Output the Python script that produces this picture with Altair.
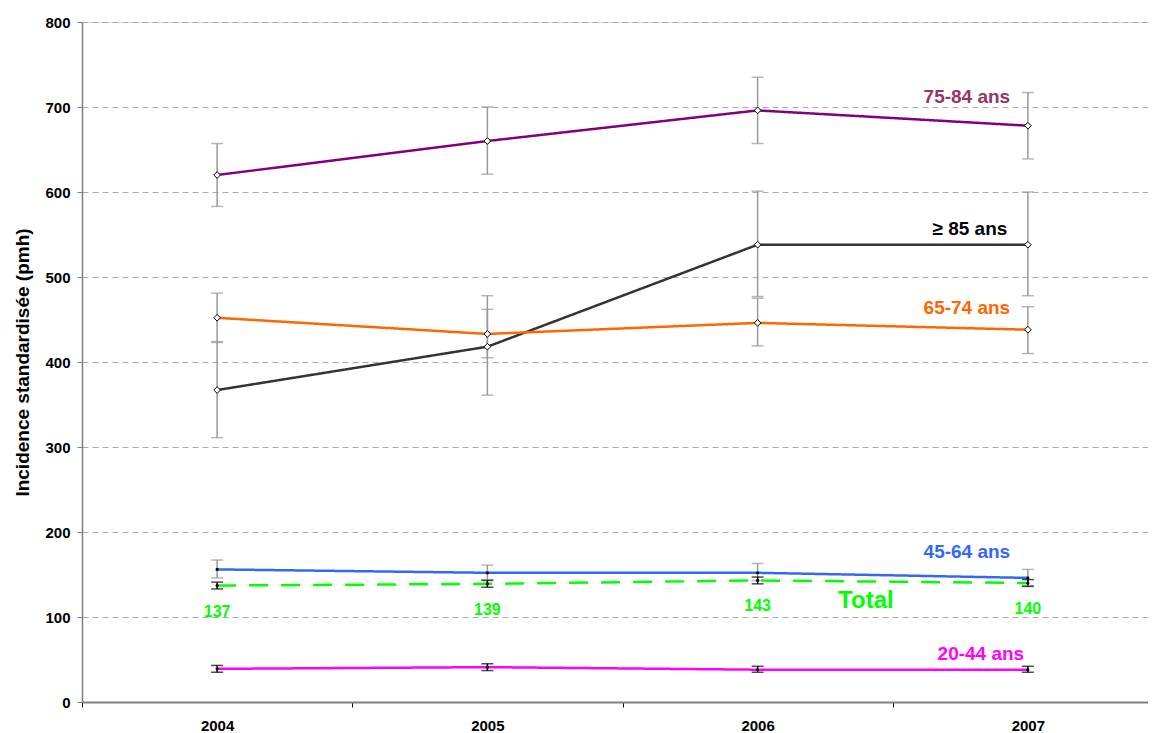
import altair as alt
import pandas as pd

years = ["2004", "2005", "2006", "2007"]
series = ["75-84 ans", "≥ 85 ans", "65-74 ans", "45-64 ans", "Total", "20-44 ans"]

v_7584 = [620, 660, 696, 678]
lo_7584 = [583, 621, 657, 639]
hi_7584 = [657, 700, 735, 717]

v_85 = [367, 418, 538, 538]
lo_85 = [311, 361, 477, 478]
hi_85 = [424, 478, 601, 600]

v_6574 = [452, 433, 446, 438]
lo_6574 = [423, 405, 419, 410]
hi_6574 = [481, 462, 475, 465]

v_4564 = [156, 152, 152, 146]
lo_4564 = [146, 144, 143, 137]
hi_4564 = [167, 161, 163, 156]

v_total = [137, 139, 143, 140]
lo_total = [133, 135, 139, 136]
hi_total = [141, 143, 147, 144]

v_2044 = [39, 41, 38, 38]
lo_2044 = [35, 37, 35, 35]
hi_2044 = [43, 45, 42, 42]

line_colors = ["#800080", "#333333", "#FF6600", "#3366FF", "#00FF00", "#FF00FF"]
label_colors = ["#993366", "#000000", "#FF6600", "#3366FF", "#00FF00", "#FF00FF"]
err_colors = ["#999999", "#999999", "#999999", "#999999", "#000000", "#000000"]
marker_kind = ["diamond", "diamond", "diamond", "dot", "dot", "dot"]

vals = [v_7584, v_85, v_6574, v_4564, v_total, v_2044]
los = [lo_7584, lo_85, lo_6574, lo_4564, lo_total, lo_2044]
his = [hi_7584, hi_85, hi_6574, hi_4564, hi_total, hi_2044]

rows = []
for i, s in enumerate(series):
    for j, y in enumerate(years):
        rows.append(dict(series=s, year=y, value=vals[i][j], lo=los[i][j], hi=his[i][j],
                         ecol=err_colors[i], kind=marker_kind[i]))
df = pd.DataFrame(rows)

FONT = "Liberation Sans"
W, H = 1066, 680

xenc = alt.X("year:O", bandPosition=0.5,
             scale=alt.Scale(type="band", domain=years, paddingInner=0, paddingOuter=0,
                             range=[0, 1081]),
             axis=alt.Axis(title=None, labelAngle=0, tickBand="extent", labelFont=FONT,
                           labelFontWeight="bold", labelFontSize=15, labelColor="#000000",
                           domainColor="#808080", domainWidth=2, tickColor="#000000",
                           tickSize=5, labelPadding=11, grid=False))
yscale = alt.Scale(domain=[0, 800], nice=False)
yenc = alt.Y("value:Q", scale=yscale,
             axis=alt.Axis(title="Incidence standardisée (pmh)", values=list(range(0, 801, 100)),
                           labelFont=FONT, labelFontWeight="bold", labelFontSize=15,
                           labelColor="#000000", titleFont=FONT, titleFontWeight="bold",
                           titleFontSize=19, titleColor="#000000", titlePadding=12,
                           domainColor="#808080", domainWidth=1.5, tickColor="#808080",
                           tickSize=5, labelPadding=7, grid=True, gridDash=[6, 4],
                           gridColor="#AAAAAA", gridWidth=1))

base = alt.Chart(df)

err_rule = base.mark_rule(strokeWidth=1.5).encode(
    x=xenc, y=alt.Y("lo:Q", scale=yscale), y2="hi:Q",
    color=alt.Color("ecol:N", scale=None))
err_lo = base.mark_tick(size=12, thickness=1.5).encode(
    x=xenc, y=alt.Y("lo:Q", scale=yscale), color=alt.Color("ecol:N", scale=None))
err_hi = base.mark_tick(size=12, thickness=1.5).encode(
    x=xenc, y=alt.Y("hi:Q", scale=yscale), color=alt.Color("ecol:N", scale=None))

lines = base.mark_line().encode(
    x=xenc, y=yenc,
    color=alt.Color("series:N", scale=alt.Scale(domain=series, range=line_colors), legend=None),
    strokeDash=alt.StrokeDash("series:N", scale=alt.Scale(
        domain=series, range=[[1, 0], [1, 0], [1, 0], [1, 0], [19, 13], [1, 0]]), legend=None),
    strokeWidth=alt.StrokeWidth("series:N", scale=alt.Scale(
        domain=series, range=[2.5, 2.5, 2.5, 2.5, 5, 2.5]), legend=None),
    detail="series:N")

diamonds = base.transform_filter(alt.datum.kind == "diamond").mark_point(
    shape="diamond", filled=True, fill="white", stroke="#000000", strokeWidth=1, size=45, opacity=1
).encode(x=xenc, y=alt.Y("value:Q", scale=yscale))

dots = base.transform_filter(alt.datum.kind == "dot").mark_point(
    shape="circle", filled=True, color="#000000", size=10, opacity=1
).encode(x=xenc, y=alt.Y("value:Q", scale=yscale))

# total value labels
total_df = pd.DataFrame(dict(year=years, value=v_total, txt=[str(v) for v in v_total]))
total_labels = alt.Chart(total_df).mark_text(
    font=FONT, fontWeight="bold", fontSize=16, color="#00FF00", dy=26, baseline="middle"
).encode(x=xenc, y=alt.Y("value:Q", scale=yscale), text="txt:N")

# series labels placed relative to the 2007 point
offsets = {"75-84 ans": (-61, -29, 19), "≥ 85 ans": (-58, -16, 19), "65-74 ans": (-61, -22, 19),
           "45-64 ans": (-61, -26, 19), "Total": (-162, 18, 24), "20-44 ans": (-47, -16, 19)}
label_layers = []
for i, s in enumerate(series):
    dx, dy, fs = offsets[s]
    ldf = pd.DataFrame(dict(year=["2007"], value=[vals[i][3]], txt=[s]))
    label_layers.append(alt.Chart(ldf).mark_text(
        font=FONT, fontWeight="bold", fontSize=fs, color=label_colors[i], dx=dx, dy=dy,
        baseline="middle", align="center"
    ).encode(x=xenc, y=alt.Y("value:Q", scale=yscale), text="txt:N"))

chart = alt.layer(lines, err_rule, err_lo, err_hi, diamonds, dots, total_labels, *label_layers).properties(
    width=W, height=H,
    autosize=alt.AutoSizeParams(type="none"),
    padding={"left": 74, "top": 14, "right": 0, "bottom": 34},
).configure_view(stroke=None).configure(background="white")

chart.save("out.html", embed_options={"renderer": "svg", "actions": False})
